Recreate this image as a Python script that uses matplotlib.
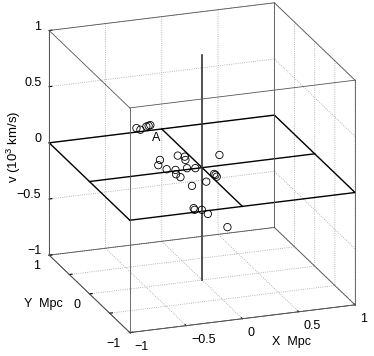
import matplotlib
matplotlib.use('Agg')
import matplotlib.pyplot as plt
import numpy as np
from mpl_toolkits.mplot3d import proj3d

plt.rcParams['font.family'] = ['Liberation Sans', 'DejaVu Sans']
plt.rcParams['mathtext.default'] = 'regular'
plt.rcParams['grid.linestyle'] = ':'
plt.rcParams['grid.color'] = '#a0a0a0'
plt.rcParams['grid.linewidth'] = 0.6

# galaxy positions (Mpc) and velocities (10^3 km/s)
gx = [-0.374, -0.389, -0.216, -0.154, -0.148, -0.315, -0.236, -0.231, -0.192,
      -0.134, -0.060, 0.154, 0.107, 0.130, 0.119, 0.037, -0.090, -0.075,
      -0.066, -0.002, 0.051, 0.225,
      -0.368, -0.333, -0.280, -0.245, -0.260]
gy = [0.0] * 22 + [0.6] * 5
gv = [0.115, 0.070, 0.134, 0.117, 0.087, 0.025, 0.009, -0.030, -0.061,
      0.012, 0.003, 0.094, -0.069, -0.096, -0.079, -0.129, -0.151, -0.351,
      -0.367, -0.375, -0.418, -0.557,
      0.191, 0.172, 0.194, 0.202, 0.198]
label_A = (-0.19, 0.6, 0.085)

ticks = [-1, -0.5, 0, 0.5, 1]
tick_labels = ['\u22121', '\u22120.5', '0', '0.5', '1']
y_ticks = [-1, 0, 1]
y_tick_labels = ['\u22121', '0', '1']

fig = plt.figure(figsize=(3.74, 3.56), dpi=100)
ax = fig.add_axes([0.0275, 0.0155, 1, 1], projection='3d', proj_type='ortho')
ax.view_init(elev=20.1, azim=-109.7)

# zero-velocity plane with axes crosses
edge = [-1, 1, 1, -1, -1]
ax.plot(edge, [-1, -1, 1, 1, -1], [0] * 5, color='black', lw=1.0)
ax.plot([-1, 1], [0, 0], [0, 0], color='black', lw=1.0)
ax.plot([0, 0], [-1, 1], [0, 0], color='black', lw=1.0)
ax.plot([0, 0], [0, 0], [-1, 1], color='#333333', lw=1.2)

ax.scatter(gx, gy, gv, s=28, facecolors='none', edgecolors='black',
           linewidths=0.6, depthshade=False)

# full box
c = [-1, 1]
for a in c:
    for b in c:
        ax.plot([-1, 1], [a, a], [b, b], color='#555555', lw=0.6)
        ax.plot([a, a], [-1, 1], [b, b], color='#555555', lw=0.6)
        ax.plot([a, a], [b, b], [-1, 1], color='#555555', lw=0.6)

ax.set_xlim(-1, 1)
ax.set_ylim(-1, 1)
ax.set_zlim(-1, 1)
ax.set_xticks(ticks)
ax.set_yticks(ticks)
ax.set_zticks(ticks)
for axis in (ax.xaxis, ax.yaxis, ax.zaxis):
    axis.set_pane_color((1, 1, 1, 0))
    axis.line.set_color('#555555')
    axis.line.set_linewidth(0.6)
    axis._axinfo['tick']['inward_factor'] = 0.0
    axis._axinfo['tick']['outward_factor'] = 0.15
    axis.set_tick_params(label1On=False, label2On=False)
    axis.label.set_visible(False)
ax.set_box_aspect((1, 1, 1), zoom=1.13)

fig.canvas.draw()


def label3d(x, y, z, s, **kw):
    # project a 3d point to figure coords and put a plain text there
    x2, y2, _ = proj3d.proj_transform(x, y, z, ax.M)
    pt = ax.transData.transform((x2, y2))
    fx, fy = fig.transFigure.inverted().transform(pt)
    fig.text(fx, fy, s, fontsize=9, **kw)


label3d(*label_A, 'A', ha='center', va='center')
# tick labels placed next to the box edges, MATLAB style
for t, s in zip(ticks, tick_labels):
    label3d(t, -1.125, -1.082, s, ha='left', va='center')
    label3d(-1.07, 1, t + 0.044, s, ha='right', va='center')
for t, s in zip(y_ticks, y_tick_labels):
    label3d(-1.08, t, -1.088, s, ha='right', va='center')

fig.text(292 / 374, 1 - 342 / 356, 'X  Mpc', fontsize=9, ha='center', va='center')
fig.text(43 / 374, 1 - 304 / 356, 'Y  Mpc', fontsize=9, ha='center', va='center')
fig.text(14 / 374, 1 - 147 / 356, 'v (10$^3$ km/s)', fontsize=9.5,
         ha='center', va='center', rotation=90)

fig.savefig('out.png', dpi=100)
